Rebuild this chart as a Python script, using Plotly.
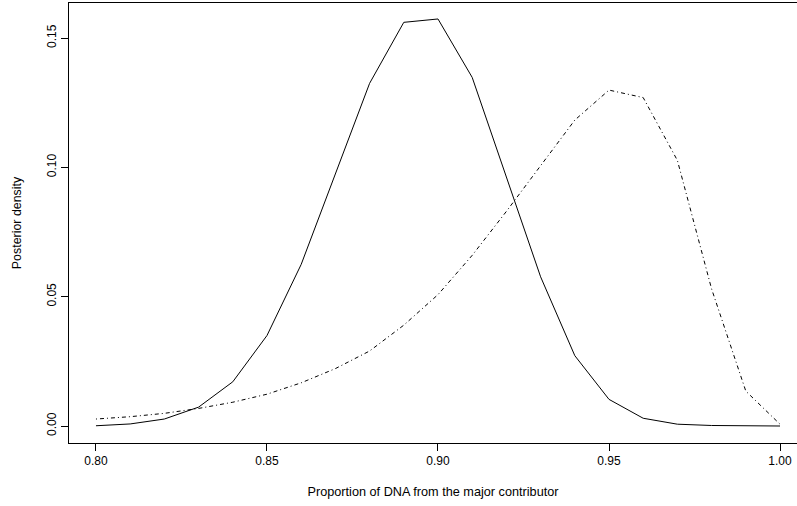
import plotly.graph_objects as go

proportion = [0.80, 0.81, 0.82, 0.83, 0.84, 0.85, 0.86, 0.87, 0.88, 0.89, 0.90,
              0.91, 0.92, 0.93, 0.94, 0.95, 0.96, 0.97, 0.98, 0.99, 1.00]
density_solid = [0.0001, 0.0008, 0.0027, 0.0073, 0.0171, 0.0350, 0.0625, 0.0975,
                 0.1325, 0.1561, 0.1574, 0.1348, 0.0960, 0.0577, 0.0272, 0.0103,
                 0.0030, 0.0007, 0.0002, 0.0000, 0.0000]
density_dotdash = [0.0027, 0.0036, 0.0049, 0.0068, 0.0092, 0.0123, 0.0167, 0.0222,
                   0.0290, 0.0390, 0.0508, 0.0660, 0.0830, 0.1008, 0.1183, 0.1299,
                   0.1270, 0.1027, 0.0530, 0.0135, 0.0007]
x_ticks = [0.80, 0.85, 0.90, 0.95, 1.00]
x_ticklabels = ["0.80", "0.85", "0.90", "0.95", "1.00"]
y_ticks = [0.00, 0.05, 0.10, 0.15]
y_ticklabels = ["0.00", "0.05", "0.10", "0.15"]

FONT = "Liberation Sans, Arial, Helvetica, sans-serif"

fig = go.Figure()
fig.add_trace(go.Scatter(x=proportion, y=density_solid, mode="lines",
                         line=dict(color="black", width=1), showlegend=False))
fig.add_trace(go.Scatter(x=proportion, y=density_dotdash, mode="lines",
                         line=dict(color="black", width=1, dash="1px,3px,4px,3px"),
                         showlegend=False))

fig.update_layout(
    width=797, height=506,
    margin=dict(l=69, r=0, t=3, b=63, pad=0),
    paper_bgcolor="white", plot_bgcolor="white",
    font=dict(family=FONT, size=12, color="black"),
    xaxis=dict(
        range=[0.79211, 1.00497], tickmode="array", tickvals=x_ticks,
        ticktext=x_ticklabels, ticks="outside", ticklen=7, tickwidth=1,
        tickcolor="black", showline=True, linecolor="black", linewidth=1,
        mirror=True, showgrid=False, zeroline=False,
        tickfont=dict(size=12),
        title=dict(text="Proportion of DNA from the major contributor",
                   font=dict(size=12.7), standoff=19),
    ),
    yaxis=dict(
        range=[-0.00657, 0.16358], tickmode="array", tickvals=y_ticks,
        ticktext=y_ticklabels, ticks="outside", ticklen=7, tickwidth=1,
        tickcolor="black", showline=True, linecolor="black", linewidth=1,
        showgrid=False, zeroline=False, tickangle=-90,
        tickfont=dict(size=12),
        title=dict(text="Posterior density", font=dict(size=12.4), standoff=20),
    ),
)

fig.write_html(
    "out.html",
    config={"displayModeBar": False},
    post_script="document.body.style.margin='0';document.body.style.overflow='hidden';",
)
